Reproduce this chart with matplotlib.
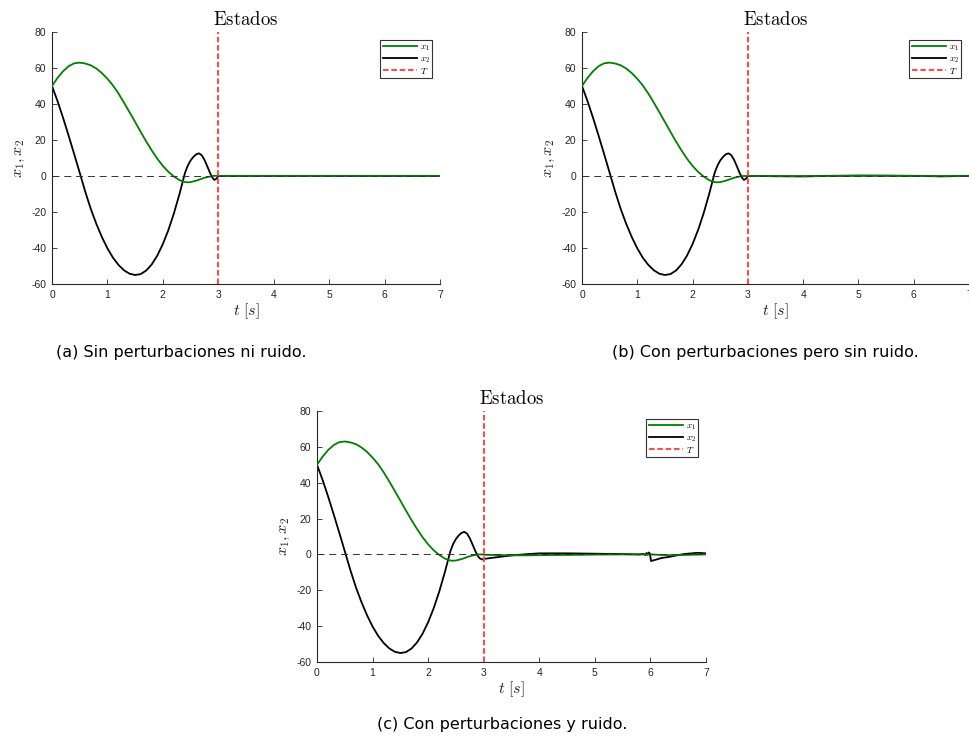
import matplotlib
matplotlib.use("Agg")
import matplotlib.pyplot as plt

plt.rcParams['mathtext.fontset'] = 'cm'
plt.rcParams['lines.scale_dashes'] = False

# common part of the trajectory (same in the three runs)
t_common = [0.0, 0.1, 0.2, 0.3, 0.4, 0.5, 0.6, 0.7, 0.8, 0.9, 1.0, 1.1, 1.2, 1.3, 1.4, 1.5,
            1.6, 1.7, 1.8, 1.9, 2.0, 2.1, 2.2, 2.3, 2.4, 2.45, 2.5, 2.55, 2.6, 2.65, 2.7, 2.75,
            2.8, 2.85, 2.9]
x1_common = [50, 54.5, 58.2, 61, 62.6, 63, 62.5, 61.5, 59.7, 57.2, 54, 50.3, 45.8, 40.7, 35.4, 30,
             24.5, 19.2, 14.2, 9.6, 5.6, 2.3, -0.3, -2.3, -3.4, -3.5, -3.4, -3.0, -2.6, -2.1, -1.5, -1.0,
             -0.6, -0.3, 0]
x2_common = [50, 41.6, 32.3, 22.4, 12.2, 1.8, -8.7, -18.3, -26.6, -33.9, -40.2, -45.4, -49.4, -52.4, -54.3, -55.0,
             -54.5, -52.5, -49.1, -44.2, -37.8, -30.0, -20.7, -10.0, 1.8, 5.8, 8.6, 10.6, 12.0, 12.6, 11.6, 9.0,
             5.5, 1.8, -1.2]

# (a) sin perturbaciones ni ruido
t_tail_a = [2.93, 2.97, 3.0, 7.0]
x1_tail_a = [0.1, 0.1, 0, 0]
x2_tail_a = [-2.2, -1.4, 0, 0]

# (b) con perturbaciones pero sin ruido
t_tail_b = [2.93, 2.97, 3.0, 3.5, 4.0, 4.5, 5.0, 5.5, 6.0, 6.5, 7.0]
x1_tail_b = [0, 0, 0, -0.1, -0.15, 0, 0.1, 0.1, 0, -0.1, 0]
x2_tail_b = [-2.2, -1.4, 0, -0.1, -0.2, 0.1, 0.25, 0.2, 0.1, -0.2, 0.1]

# (c) con perturbaciones y ruido
t_tail_c = [2.93, 2.97, 3.03, 3.3, 3.55, 3.8, 4.0, 4.5, 5.0, 5.5, 5.8, 5.88, 5.91, 5.93, 5.95,
            5.97, 5.99, 6.01, 6.2, 6.35, 6.6, 6.85, 7.0]
x1_tail_c = [0, 0, -0.2, -0.4, -0.5, -0.5, -0.4, -0.3, -0.1, 0, 0, 0, 0, 0, 0,
             0, 0, 0, -0.3, -0.4, -0.3, -0.1, 0]
x2_tail_c = [-2.2, -2.8, -2.4, -1.3, -0.4, 0.2, 0.6, 0.6, 0.4, 0.2, 0.0, 0.3, -0.4, 0.8, -0.2,
             1.1, 0.5, -3.7, -2.0, -1.3, 0.2, 0.9, 0.6]

T_final = 3.0
xticks = [0, 1, 2, 3, 4, 5, 6, 7]
yticks = [-60, -40, -20, 0, 20, 40, 60, 80]

captions = ["(a) Sin perturbaciones ni ruido.",
            "(b) Con perturbaciones pero sin ruido.",
            "(c) Con perturbaciones y ruido."]

W, H = 969, 739
fig = plt.figure(figsize=(W / 100, H / 100), dpi=100)

# axes boxes in pixels: left, top, right, bottom
boxes = [(52, 32, 440, 284), (582, 32, 969, 284), (317, 411, 706, 662)]
caption_pos = [(181, 352), (765, 352), (502, 725)]
tails = [(t_tail_a, x1_tail_a, x2_tail_a),
         (t_tail_b, x1_tail_b, x2_tail_b),
         (t_tail_c, x1_tail_c, x2_tail_c)]

axcol = '#262626'

for i in range(3):
    l, tp, r, b = boxes[i]
    ax = fig.add_axes([l / W, 1 - b / H, (r - l) / W, (b - tp) / H])
    tt, a1, a2 = tails[i]
    t = t_common + tt
    x1 = x1_common + a1
    x2 = x2_common + a2

    ax.plot(t, x1, color='#008000', lw=1.3, label=r'$x_1$', zorder=3)
    ax.plot(t, x2, color='black', lw=1.3, label=r'$x_2$', zorder=2)
    ax.axhline(0, color='#333333', lw=0.7, dashes=(5, 3.5), zorder=4)
    ax.axvline(T_final, color='#ff4d4d', lw=1.5, dashes=(4, 2), label=r'$T$', zorder=5)

    ax.set_xlim(0, 7)
    ax.set_ylim(-60, 80)
    ax.set_xticks(xticks)
    ax.set_yticks(yticks)
    ax.set_xticklabels([str(v) for v in xticks], fontfamily='Liberation Sans', fontsize=7.5, color=axcol)
    ax.set_yticklabels([str(v) for v in yticks], fontfamily='Liberation Sans', fontsize=7.5, color=axcol)
    ax.tick_params(direction='in', length=3.5, width=0.6, color=axcol, pad=4)
    ax.spines['top'].set_visible(False)
    ax.spines['right'].set_visible(False)
    for s in ['left', 'bottom']:
        ax.spines[s].set_color(axcol)
        ax.spines[s].set_linewidth(0.8)

    ax.set_title(r'$\mathrm{Estados}$', fontsize=13.5, pad=5)
    ax.set_xlabel(r'$t\ [s]$', fontsize=11.5, color=axcol, labelpad=1)
    ax.set_ylabel(r'$x_1, x_2$', fontsize=11.5, color=axcol, labelpad=3)

    leg = ax.legend(loc='upper right', fontsize=6.5, handlelength=3.8, handletextpad=0.3,
                    borderpad=0.25, labelspacing=0.12, borderaxespad=0.9,
                    fancybox=False, framealpha=1, edgecolor='#333333')
    leg.get_frame().set_linewidth(0.8)

    cx, cy = caption_pos[i]
    fig.text(cx / W, 1 - cy / H, captions[i], ha='center', va='center',
             fontfamily='DejaVu Sans', fontsize=11.5)

fig.savefig('out.png', dpi=100)
